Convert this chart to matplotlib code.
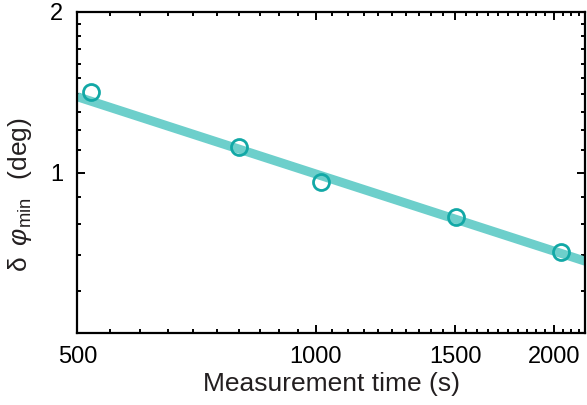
import matplotlib as mpl
mpl.use("Agg")
import matplotlib.pyplot as plt
import numpy as np
from matplotlib.ticker import FixedLocator, MultipleLocator, NullFormatter

# measured minimum phase uncertainty vs. total measurement time
meas_time = [520, 800, 1015, 1505, 2040]          # s
dphi_min = [1.418, 1.114, 0.958, 0.825, 0.709]    # deg

# power-law fit  dphi = amp * (t / 1000 s) ** slope
fit_amp = 0.994
fit_slope = -0.48

x_ticks = [500, 1000, 1500, 2000]
x_ticklabels = ["500", "1000", "1500", "2000"]
y_ticks = [1, 2]
y_ticklabels = ["1", "2"]

LINE_COLOR = "#6dcfcb"
MARKER_COLOR = "#12a8a6"

mpl.rcParams.update({
    "font.family": ["Liberation Sans", "DejaVu Sans"],
    "mathtext.fontset": "custom",
    "mathtext.rm": "Liberation Sans",
    "mathtext.it": "Liberation Sans:italic",
    "mathtext.sf": "Liberation Sans",
})

fig = plt.figure(figsize=(5.87, 4.05), dpi=100)
ax = fig.add_axes([0.1317, 0.177, 0.8653, 0.794])

ax.set_xscale("log")
ax.set_yscale("log")
ax.set_xlim(500, 2190)
ax.set_ylim(0.5, 2)

t_fit = np.geomspace(*ax.get_xlim(), 200)
ax.plot(t_fit, fit_amp * (t_fit / 1000.0) ** fit_slope,
        color=LINE_COLOR, lw=6.5, solid_capstyle="butt", zorder=2)
ax.plot(meas_time, dphi_min, ls="none", marker="o", ms=11.5,
        mfc="none", mec=MARKER_COLOR, mew=2.0, zorder=3)

ax.xaxis.set_major_locator(FixedLocator(x_ticks))
ax.xaxis.set_minor_locator(MultipleLocator(50))
ax.xaxis.set_minor_formatter(NullFormatter())
ax.set_xticklabels(x_ticklabels)
ax.yaxis.set_major_locator(FixedLocator(y_ticks))
ax.yaxis.set_minor_locator(MultipleLocator(0.1))
ax.yaxis.set_minor_formatter(NullFormatter())
ax.set_yticklabels(y_ticklabels)

for s in ax.spines.values():
    s.set_linewidth(1.6)
ax.tick_params(which="both", direction="in", top=True, right=True,
               width=1.4, labelsize=17)
ax.tick_params(which="major", length=6)
ax.tick_params(which="minor", length=3)
ax.tick_params(axis="x", which="major", pad=9)
ax.tick_params(axis="y", which="major", pad=10)

ax.set_xlabel("Measurement time (s)", fontsize=19, color="#231f20", labelpad=3)
ax.set_ylabel(r"$\mathrm{\delta}\;\;\varphi_{\mathrm{min}}\;\;\;$(deg)", fontsize=19,
              color="#231f20", labelpad=5)
ax.yaxis.set_label_coords(-0.085, 0.43)

fig.savefig("out.png", dpi=100)
